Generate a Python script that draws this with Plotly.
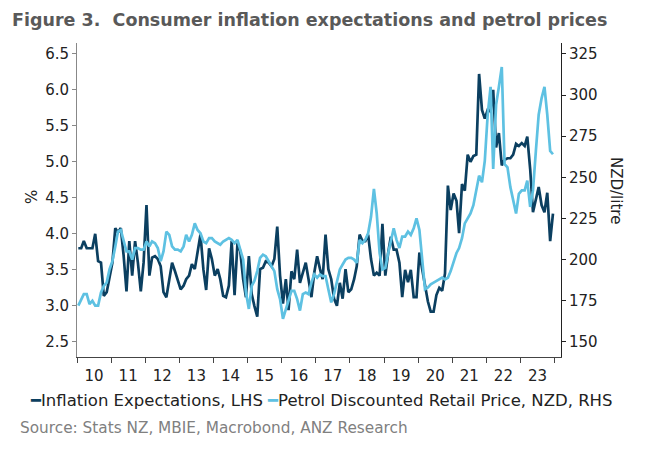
import pandas as pd
import plotly.graph_objects as go

# monthly, Jan 2010 - Dec 2023
months = pd.date_range("2010-01-01", periods=168, freq="MS") + pd.Timedelta(days=14)

inflation_exp = [
    3.8, 3.8, 3.9, 3.8, 3.8, 3.8, 4.0, 3.62, 3.6, 3.14, 3.19, 3.4,        # 2010
    3.6, 4.08, 4.02, 4.08, 3.7, 3.2, 3.9, 3.42, 3.9, 3.6, 3.2, 3.6,       # 2011
    4.4, 3.42, 3.67, 3.69, 3.65, 3.55, 3.19, 3.12, 3.37, 3.6, 3.48, 3.37,  # 2012
    3.23, 3.28, 3.37, 3.42, 3.58, 3.51, 3.78, 3.99, 3.51, 3.22, 3.8, 3.65, # 2013
    3.42, 3.51, 3.37, 3.14, 3.12, 3.28, 3.9, 3.15, 3.87, 3.76, 3.37, 3.12, # 2014
    3.69, 3.16, 3.0, 2.85, 3.51, 3.53, 3.62, 3.6, 3.55, 3.65, 4.1, 3.42,   # 2015
    3.03, 3.37, 2.94, 3.48, 3.37, 3.78, 3.32, 3.46, 3.6, 3.37, 3.12, 3.46, # 2016
    3.69, 3.51, 3.37, 3.99, 3.51, 3.37, 3.1, 3.0, 3.32, 3.1, 3.51, 3.19,   # 2017
    3.23, 3.37, 3.55, 3.99, 3.9, 3.9, 3.99, 3.65, 3.42, 3.46, 3.42, 4.14,  # 2018
    3.42, 3.74, 3.96, 3.78, 3.78, 3.6, 3.12, 3.5, 3.33, 3.5, 3.12, 3.12,   # 2019
    3.74, 3.5, 3.28, 3.06, 2.92, 2.92, 3.15, 3.25, 3.21, 3.45, 4.67, 4.33, # 2020
    4.56, 4.46, 4.01, 4.69, 4.6, 5.1, 5.0, 5.08, 5.1, 6.22, 5.72, 5.6,     # 2021
    5.72, 5.7, 6.0, 5.2, 5.4, 4.95, 5.03, 5.05, 5.05, 5.1, 5.25, 5.22,     # 2022
    5.26, 5.22, 5.35, 4.9, 4.3, 4.5, 4.65, 4.4, 4.3, 4.57, 3.9, 4.28,      # 2023
]

petrol_price = [
    172, 176, 179, 179, 173, 175, 172, 172, 180, 184, 186, 194,  # 2010
    199, 208, 217, 218, 212, 205, 205, 200, 207, 207, 206, 206,  # 2011
    211, 208, 211, 210, 207, 199, 205, 217, 215, 208, 206, 206,  # 2012
    205, 208, 215, 211, 215, 222, 218, 216, 211, 210, 213, 213,  # 2013
    211, 210, 209, 211, 212, 213, 212, 210, 212, 206, 200, 180,  # 2014
    170, 184, 187, 193, 201, 203, 202, 199, 196, 193, 182, 176,  # 2015
    164, 170, 176, 181, 181, 176, 169, 179, 180, 179, 186, 191,  # 2016
    189, 191, 190, 190, 182, 174, 179, 187, 194, 197, 200, 201,  # 2017
    201, 200, 198, 212, 210, 212, 216, 226, 243, 228, 204, 194,  # 2018
    195, 204, 211, 219, 212, 207, 214, 214, 217, 215, 219, 225,  # 2019
    218, 200, 182, 183, 185, 186, 187, 188, 189, 188, 189, 193,  # 2020
    199, 204, 207, 213, 222, 225, 228, 233, 243, 251, 247, 260,  # 2021
    288, 305, 255, 294, 305, 317, 258, 256, 244, 236, 228, 240,  # 2022
    242, 242, 248, 232, 242, 266, 288, 298, 305, 288, 266, 264,  # 2023
]

series_names = ["Inflation Expectations, LHS",
                "Petrol Discounted Retail Price, NZD, RHS"]

DARK = "#0b3f60"
LIGHT = "#5ec1e2"
FONT = "Verdana, DejaVu Sans, sans-serif"

# the page body has an 8px margin, so the figure is drawn 8px smaller
# and every pixel position below is in reference-picture pixels
PX0, PY1, PW, PH = 77, 357, 484, 314


def px(x):
    return (x - PX0) / PW


def py(y):
    return (PY1 - y) / PH


fig = go.Figure()
fig.add_trace(go.Scatter(x=months, y=inflation_exp, mode="lines",
                         name=series_names[0],
                         line=dict(color=DARK, width=2.7)))
fig.add_trace(go.Scatter(x=months, y=petrol_price, mode="lines", yaxis="y2",
                         name=series_names[1],
                         line=dict(color=LIGHT, width=2.7)))

fig.update_layout(
    width=648, height=443,
    margin=dict(l=69, r=95, t=35, b=94, autoexpand=False),
    paper_bgcolor="white", plot_bgcolor="white",
    font=dict(family=FONT, size=15, color="#222"),
    showlegend=False,
    xaxis=dict(type="date", range=["2010-01-01", "2024-03-10"],
               tick0="2010-01-01", dtick="M12", tickformat="%y",
               ticklabelmode="period", ticks="outside", ticklen=5,
               tickcolor="#444", showline=True, linecolor="#444",
               showgrid=False, zeroline=False, automargin=False,
               tickfont=dict(size=15)),
    yaxis=dict(range=[2.29, 6.65], tick0=2.5, dtick=0.5, tickformat=".1f",
               ticks="outside", ticklen=4, tickcolor="#888",
               showline=True, linecolor="#888", showgrid=False,
               zeroline=False, automargin=False, tickfont=dict(size=15)),
    yaxis2=dict(range=[140.8, 331.6], tick0=150, dtick=25, overlaying="y",
                side="right", ticks="outside", ticklen=4, tickcolor="#222",
                showline=True, linecolor="#222", showgrid=False,
                zeroline=False, automargin=False, tickfont=dict(size=15)),
)

# title
fig.add_annotation(text="<b>Figure 3.  Consumer inflation expectations and petrol prices</b>",
                   xref="paper", yref="paper", x=px(10), y=py(20),
                   xanchor="left", yanchor="middle", showarrow=False,
                   font=dict(family=FONT, size=17.5, color="#595959"))

# axis titles
fig.add_annotation(text="%", textangle=-90, xref="paper", yref="paper",
                   x=px(21), y=py(197), showarrow=False,
                   font=dict(size=15, color="#222"))
fig.add_annotation(text="NZD/litre", textangle=90, xref="paper", yref="paper",
                   x=px(627), y=py(190), showarrow=False,
                   font=dict(size=15, color="#222"))

# legend row
legend_text = (f"<span style='color:{DARK}'>━</span>{series_names[0]} "
               f"<span style='color:{LIGHT}'>━</span>{series_names[1]}")
fig.add_annotation(text=legend_text, xref="paper", yref="paper",
                   x=px(321), y=py(400), xanchor="center", yanchor="middle",
                   showarrow=False, font=dict(size=16.5, color="#222"))

fig.add_annotation(text="Source: Stats NZ, MBIE, Macrobond, ANZ Research",
                   xref="paper", yref="paper", x=px(18), y=py(428),
                   xanchor="left", yanchor="middle", showarrow=False,
                   font=dict(size=15.3, color="#808080"))

fig.write_html("out.html")
